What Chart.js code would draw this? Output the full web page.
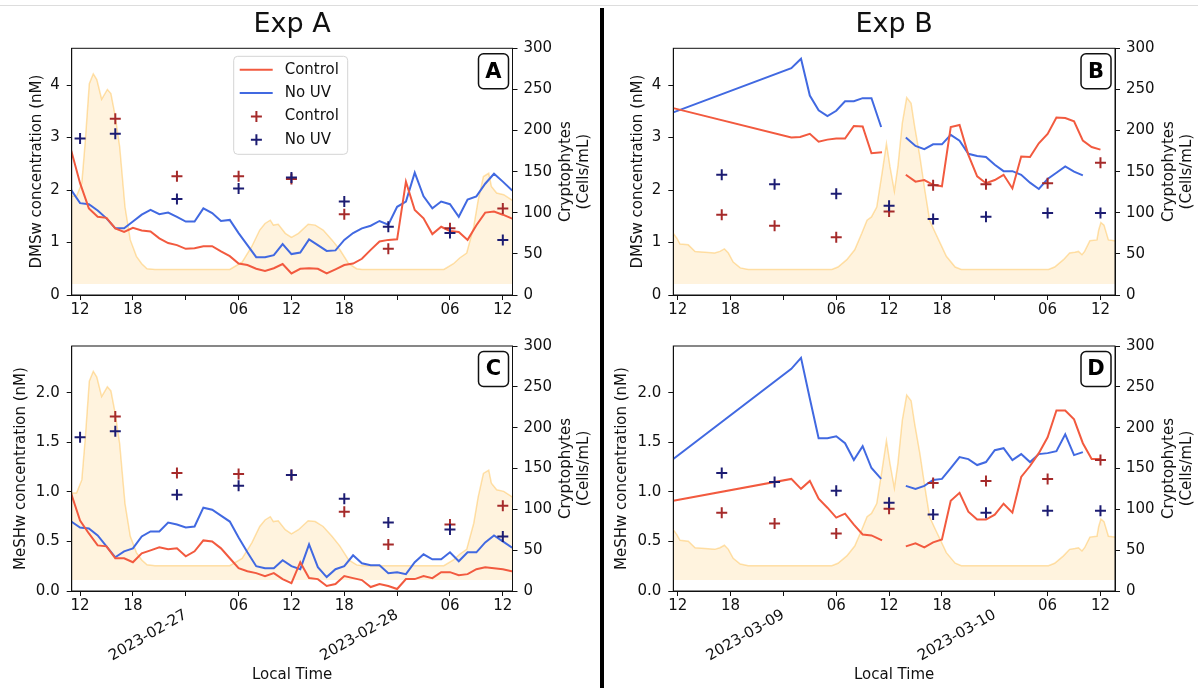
<!DOCTYPE html>
<html>
<head>
<meta charset="utf-8">
<script src="https://cdn.jsdelivr.net/npm/chart.js@4.4.1/dist/chart.umd.min.js"></script>
<style>
  html, body { margin: 0; padding: 0; background: #fff; }
  #page { position: relative; width: 1198px; height: 688px; overflow: hidden; }
  canvas { position: absolute; }
  #topline { position: absolute; left: 0; top: 5px; width: 1198px; height: 1px; background: #ddd; }
  #divider { position: absolute; left: 600px; top: 8px; width: 4px; height: 680px; background: #000; }
</style>
</head>
<body>
<div id="page">
  <div id="topline"></div>
  <canvas id="cA" width="598" height="330" style="left:0;top:0"></canvas>
  <canvas id="cB" width="595" height="330" style="left:603px;top:0"></canvas>
  <canvas id="cC" width="598" height="358" style="left:0;top:330px"></canvas>
  <canvas id="cD" width="595" height="358" style="left:603px;top:330px"></canvas>
  <div id="divider"></div>
</div>
<script>
Chart.defaults.font.family = "'DejaVu Sans', sans-serif";
Chart.defaults.font.size = 15;
Chart.defaults.color = '#111';

// x is hours since 12:00 on the first day
const HOUR_TICKS = [0, 6, 12, 18, 24, 30, 36, 42, 48];
const HOUR_LABELS = ['12', '18', '', '06', '12', '18', '', '06', '12'];
const DATE_TICKS = [12, 36];
const DATES_A = ['2023-02-27', '2023-02-28'];
const DATES_B = ['2023-03-09', '2023-03-10'];

// Cryptophytes (cells/mL), shared by the two panels of each experiment
const cryptoA = [[-1,120],[-0.4,120],[0.2,136],[0.6,188],[1.05,257],[1.5,269],[1.9,262],[2.45,238],[3.1,250],[3.5,245],[4.0,217],[4.5,180],[5.1,107],[5.7,67],[6.4,47],[7.0,38],[7.6,32],[8.5,31],[17.0,31],[18.4,40],[19.5,59],[20.4,79],[21.0,87],[21.6,91],[21.95,85],[22.5,86],[23.3,75],[24.0,70],[24.8,75],[25.9,86],[26.7,85],[27.6,79],[28.6,67],[29.5,55],[30.5,38],[31.4,32],[32,31],[41.3,31],[42.4,38],[43.1,45],[43.9,51],[44.7,83],[45.2,115],[45.8,144],[46.4,148],[46.7,132],[47.3,124],[48.1,122],[49.1,115],[50,112]];
const cryptoB = [[-1,78],[-0.5,75],[-0.1,69],[0.26,62],[1.2,61],[1.97,53],[4.2,51],[4.8,53],[5.3,56],[5.75,51],[6.3,40],[7.1,33],[8.0,31],[17.5,31],[18.2,34],[19.2,43],[20.1,55],[20.9,75],[21.5,91],[22.0,95],[22.6,107],[23.2,148],[23.7,184],[24.1,156],[24.6,126],[25.0,156],[25.5,209],[26.0,240],[26.5,233],[26.9,205],[27.5,168],[28.05,128],[28.6,91],[29.1,79],[29.8,63],[30.5,47],[31.5,34],[32.2,31],[42.1,31],[42.8,34],[43.8,43],[44.5,51],[45.1,52],[45.5,53],[45.9,49],[46.2,53],[46.8,66],[47.6,67],[47.8,79],[48.05,88],[48.4,85],[48.9,67],[49.6,66],[50,66]];

// DMSw (nM), continuous
const dmsCtrlA = [[-1,2.75],[0,2.13],[1,1.65],[2,1.49],[3,1.47],[4,1.27],[5,1.20],[6,1.28],[7,1.23],[8,1.21],[9,1.08],[10,0.99],[11,0.95],[12,0.88],[13,0.89],[14,0.93],[15,0.93],[16,0.83],[17,0.74],[18,0.60],[19,0.57],[20,0.50],[21,0.46],[22,0.51],[23,0.59],[24,0.41],[25,0.50],[26,0.51],[27,0.50],[28,0.41],[29,0.49],[30,0.57],[31,0.60],[32,0.69],[33,0.86],[34,1.02],[35,1.05],[36,1.06],[37,2.16],[38,1.62],[39,1.46],[40,1.16],[41,1.30],[42,1.22],[43,1.20],[44,1.05],[45,1.33],[46,1.57],[47,1.59],[48,1.53],[49,1.46],[50,1.42]];
const dmsNoUvA = [[-1,2.0],[0,1.75],[1,1.73],[2,1.61],[3,1.46],[4,1.27],[5,1.27],[6,1.40],[7,1.53],[8,1.62],[9,1.54],[10,1.57],[11,1.49],[12,1.40],[13,1.40],[14,1.65],[15,1.56],[16,1.41],[17,1.43],[18,1.18],[19,0.95],[20,0.72],[21,0.72],[22,0.76],[23,0.97],[24,0.78],[25,0.81],[26,1.06],[27,0.95],[28,0.84],[29,0.85],[30,1.05],[31,1.18],[32,1.27],[33,1.32],[34,1.41],[35,1.34],[36,1.68],[37,1.78],[38,2.33],[39,1.88],[40,1.65],[41,1.78],[42,1.73],[43,1.49],[44,1.82],[45,1.88],[46,2.12],[47,2.31],[48,2.16],[49,2.0],[50,1.9]];
const dmsCtrlB = [[-0.5,3.56],[12.9,3.00],[13.9,3.01],[15,3.07],[16,2.92],[17,2.96],[18,2.98],[19,2.98],[20,3.22],[21,3.21],[22,2.70],[23.2,2.72],[24,null],[25.9,2.29],[27,2.16],[28,2.19],[29,2.10],[30,2.07],[31,3.20],[32,3.24],[33,2.67],[34,2.26],[35,2.13],[36,2.19],[37,2.29],[38,2.03],[39,2.64],[40,2.63],[41,2.89],[42,3.07],[43,3.38],[44,3.37],[45,3.31],[46,2.94],[47,2.82],[48,2.77]];
const dmsNoUvB = [[-0.5,3.48],[12.9,4.32],[14,4.50],[15,3.80],[16,3.52],[17,3.41],[18,3.51],[19,3.69],[20,3.69],[21,3.75],[22,3.75],[23.1,3.20],[24,null],[25.9,3.00],[27,2.84],[28,2.78],[29,2.87],[30,2.87],[31,3.05],[32,2.94],[33,2.69],[34,2.65],[35,2.63],[36,2.48],[37,2.36],[38,2.36],[39,2.29],[40,2.14],[41,2.02],[42,2.21],[43,2.33],[44,2.45],[45,2.35],[46,2.28]];

// MeSHw (nM), continuous
const meshCtrlA = [[-1,0.98],[0,0.71],[1,0.58],[2,0.46],[3,0.45],[4,0.33],[5,0.33],[6,0.29],[7,0.38],[8,0.41],[9,0.44],[10,0.42],[11,0.43],[12,0.35],[13,0.40],[14,0.51],[15,0.50],[16,0.43],[17,0.33],[18,0.23],[19,0.20],[20,0.18],[21,0.15],[22,0.18],[23,0.12],[24,0.08],[25,0.29],[26,0.13],[27,0.12],[28,0.05],[29,0.07],[30,0.15],[31,0.13],[32,0.11],[33,0.04],[34,0.07],[35,0.05],[36,0.02],[37,0.12],[38,0.12],[39,0.15],[40,0.13],[41,0.19],[42,0.19],[43,0.16],[44,0.17],[45,0.22],[46,0.24],[47,0.23],[48,0.22],[49,0.20],[50,0.19]];
const meshNoUvA = [[-1,0.70],[0,0.64],[1,0.63],[2,0.56],[3,0.45],[4,0.34],[5,0.40],[6,0.43],[7,0.55],[8,0.60],[9,0.60],[10,0.69],[11,0.67],[12,0.64],[13,0.65],[14,0.84],[15,0.82],[16,0.76],[17,0.70],[18,0.54],[19,0.39],[20,0.25],[21,0.23],[22,0.23],[23,0.31],[24,0.25],[25,0.22],[26,0.47],[27,0.24],[28,0.14],[29,0.22],[30,0.25],[31,0.36],[32,0.28],[33,0.26],[34,0.26],[35,0.18],[36,0.19],[37,0.17],[38,0.29],[39,0.37],[40,0.32],[41,0.32],[42,0.39],[43,0.30],[44,0.39],[45,0.39],[46,0.49],[47,0.56],[48,0.50],[49,0.44],[50,0.42]];
const meshCtrlB = [[-0.5,0.91],[12.9,1.13],[14,1.03],[15,1.11],[16,0.93],[17,0.84],[18,0.74],[19,0.78],[20,0.67],[21,0.57],[22,0.56],[23.2,0.51],[24,null],[25.9,0.45],[27,0.48],[28,0.44],[29,0.49],[30,0.52],[31,0.91],[32,0.99],[33,0.80],[34,0.72],[35,0.72],[36,0.77],[37,0.88],[38,0.79],[39,1.15],[40,1.26],[41,1.39],[42,1.55],[43,1.82],[44,1.82],[45,1.73],[46,1.49],[47,1.33],[48,1.33]];
const meshNoUvB = [[-0.5,1.33],[12.9,2.24],[14,2.35],[15,1.94],[16,1.54],[17,1.54],[18,1.56],[19,1.49],[20,1.32],[21,1.46],[22,1.24],[23.1,1.13],[24,null],[25.9,1.06],[27,1.03],[28,1.06],[29,1.12],[30,1.13],[31,1.24],[32,1.35],[33,1.33],[34,1.27],[35,1.30],[36,1.42],[37,1.44],[38,1.32],[39,1.38],[40,1.30],[41,1.38],[42,1.39],[43,1.41],[44,1.58],[45,1.37],[46,1.40]];

// discrete samples (+ markers)
const dmsSampCtrlA = [[4,3.36],[11,2.26],[18,2.26],[24,2.21],[30,1.54],[35,0.88],[42,1.27],[48,1.65]];
const dmsSampNoUvA = [[0,2.98],[4,3.07],[11,1.83],[18,2.03],[24,2.24],[30,1.78],[35,1.30],[42,1.18],[48,1.05]];
const dmsSampCtrlB = [[5,1.53],[11,1.32],[18,1.10],[24,1.59],[29,2.09],[35,2.11],[42,2.13],[48,2.52]];
const dmsSampNoUvB = [[5,2.29],[11,2.11],[18,1.93],[24,1.70],[29,1.45],[35,1.49],[42,1.56],[48,1.56]];
const meshSampCtrlA = [[4,1.76],[11,1.19],[18,1.18],[24,1.17],[30,0.80],[35,0.47],[42,0.67],[48,0.86]];
const meshSampNoUvA = [[0,1.55],[4,1.61],[11,0.97],[18,1.06],[24,1.17],[30,0.93],[35,0.69],[42,0.62],[48,0.55]];
const meshSampCtrlB = [[5,0.79],[11,0.68],[18,0.58],[24,0.83],[29,1.09],[35,1.11],[42,1.13],[48,1.32]];
const meshSampNoUvB = [[5,1.19],[11,1.10],[18,1.01],[24,0.89],[29,0.77],[35,0.79],[42,0.81],[48,0.81]];

const RED = '#f25a3f', BLUE = '#4169e1';
const RED_MARK = '#a52a2a', BLUE_MARK = '#1c1c72';
const AXIS = '#111';

const pts = arr => arr.map(([x, y]) => ({ x, y }));

// frame + boxed panel letter in the top-right corner
const panelTag = {
  id: 'panelTag',
  afterDatasetsDraw(chart, args, opts) {
    const { ctx, chartArea: a } = chart;
    ctx.save();
    ctx.lineWidth = 1;
    ctx.strokeStyle = AXIS;
    ctx.strokeRect(a.left, a.top, a.width, a.height);
    const w = 30, h = 35, x = a.right - 4 - w, y = a.top + 5.5;
    ctx.beginPath();
    ctx.roundRect(x, y, w, h, 5);
    ctx.fillStyle = '#fff';
    ctx.fill();
    ctx.lineWidth = 1.5;
    ctx.stroke();
    ctx.font = "bold 21px 'DejaVu Sans'";
    ctx.textAlign = 'center';
    ctx.textBaseline = 'middle';
    ctx.fillStyle = '#000';
    ctx.fillText(opts.text, x + w / 2, y + h / 2 + 1);
    ctx.restore();
  }
};

// right axis title, reading upwards like the left one
const rightTitle = {
  id: 'rightTitle',
  afterDraw(chart) {
    const { ctx, chartArea: a } = chart;
    const cy = (a.top + a.bottom) / 2;
    ctx.save();
    ctx.font = "15px 'DejaVu Sans'";
    ctx.fillStyle = '#111';
    ctx.textAlign = 'center';
    ctx.textBaseline = 'middle';
    [['Cryptophytes', 54], ['(Cells/mL)', 72]].forEach(([t, dx]) => {
      ctx.save();
      ctx.translate(a.right + dx, cy);
      ctx.rotate(-Math.PI / 2);
      ctx.fillText(t, 0, 0);
      ctx.restore();
    });
    ctx.restore();
  }
};

// the rotated date labels tuck up beside the hour labels, so give their
// axis box (and its label clip) a bit more room at the top
const liftDates = {
  id: 'liftDates',
  afterLayout(chart) {
    const s = chart.scales.xd;
    if (s) s.top -= 10;
  }
};

// matplotlib-style legend box, only used on panel A
const legendBox = {
  id: 'legendBox',
  afterDatasetsDraw(chart, args, opts) {
    if (!opts.show) return;
    const { ctx, chartArea: a } = chart;
    const ds = chart.data.datasets;
    const items = [ds[2], ds[3], ds[1], ds[0]];
    const x = a.left + 162, y = a.top + 8, w = 114, h = 98;
    ctx.save();
    ctx.beginPath();
    ctx.roundRect(x, y, w, h, 4);
    ctx.fillStyle = 'rgba(255,255,255,0.85)';
    ctx.fill();
    ctx.strokeStyle = '#d4d4d4';
    ctx.lineWidth = 1;
    ctx.stroke();
    ctx.font = "15px 'DejaVu Sans'";
    ctx.textBaseline = 'middle';
    items.forEach((d, i) => {
      const cy = y + 13.5 + i * 23.3;
      ctx.strokeStyle = d.borderColor;
      ctx.lineWidth = 2;
      ctx.beginPath();
      if (d.showLine === false) {
        ctx.moveTo(x + 22.7 - 5.5, cy); ctx.lineTo(x + 22.7 + 5.5, cy);
        ctx.moveTo(x + 22.7, cy - 5.5); ctx.lineTo(x + 22.7, cy + 5.5);
      } else {
        ctx.moveTo(x + 6, cy); ctx.lineTo(x + 39, cy);
      }
      ctx.stroke();
      ctx.fillStyle = '#111';
      ctx.fillText(d.label, x + 51, cy);
    });
    ctx.restore();
  }
};

function makePanel(id, o) {
  const canvas = document.getElementById(id);
  const W = canvas.width, H = canvas.height, a = o.area;
  const top = !!o.title;
  const xh = top ? H - a.b : 21;
  // left title centre sits titleGap px left of the axis
  const padLeft = a.l - o.titleGap - 13;
  const scales = {
    x: {
      type: 'linear', min: o.xMin, max: o.xMax, weight: 0,
      afterBuildTicks: s => { s.ticks = HOUR_TICKS.map(value => ({ value })); },
      ticks: { autoSkip: false, maxRotation: 0, padding: 1,
        callback: v => HOUR_LABELS[HOUR_TICKS.indexOf(v)] },
      grid: { drawOnChartArea: false, tickLength: 5, color: AXIS },
      border: { color: AXIS },
      afterFit: s => { s.height = xh; }
    },
    y: {
      position: 'left', min: 0, max: o.yMax,
      ticks: { stepSize: o.yStep, includeBounds: false, padding: 7, callback: o.yFmt },
      grid: { drawOnChartArea: false, tickLength: 5, color: AXIS },
      border: { color: AXIS },
      title: { display: true, text: o.yTitle, padding: { top: 4, bottom: 0 } },
      afterFit: s => { s.width = a.l - padLeft; }
    },
    y2: {
      position: 'right', min: 0, max: 300,
      ticks: { stepSize: 50, includeBounds: false, padding: 6 },
      grid: { drawOnChartArea: false, tickLength: 5, color: AXIS },
      border: { color: AXIS },
      afterFit: s => { s.width = W - a.r; }
    }
  };
  if (!top) {
    scales.xd = {
      type: 'linear', position: 'bottom', min: o.xMin, max: o.xMax, weight: 1,
      afterBuildTicks: s => { s.ticks = DATE_TICKS.map(value => ({ value })); },
      ticks: { autoSkip: false, minRotation: 30, maxRotation: 30, padding: -4,
        callback: v => o.dates[DATE_TICKS.indexOf(v)] },
      grid: { display: false },
      border: { display: false },
      title: { display: true, text: 'Local Time', padding: { top: 0, bottom: 4 } },
      afterFit: s => { s.height = H - a.b - xh; }
    };
  }

  return new Chart(canvas, {
    type: 'line',
    data: {
      datasets: [
        { label: 'No UV', data: pts(o.sampNoUv), yAxisID: 'y', showLine: false, pointStyle: 'cross',
          pointRadius: 5.5, pointBorderWidth: 2, borderColor: BLUE_MARK, order: 0 },
        { label: 'Control', data: pts(o.sampCtrl), yAxisID: 'y', showLine: false, pointStyle: 'cross',
          pointRadius: 5.5, pointBorderWidth: 2, borderColor: RED_MARK, order: 1 },
        { label: 'Control', data: pts(o.ctrl), yAxisID: 'y', borderColor: RED, borderWidth: 2,
          pointRadius: 0, spanGaps: false, order: 2 },
        { label: 'No UV', data: pts(o.noUv), yAxisID: 'y', borderColor: BLUE, borderWidth: 2,
          pointRadius: 0, spanGaps: false, order: 3 },
        { label: 'Cryptophytes', data: pts(o.crypto), yAxisID: 'y2', borderColor: 'rgba(255,165,0,0.32)',
          borderWidth: 1.5, backgroundColor: 'rgba(255,165,0,0.13)', fill: { value: 13.5 },
          pointRadius: 0, order: 4 }
      ]
    },
    options: {
      responsive: false,
      animation: false,
      events: [],
      layout: { padding: { left: padLeft, right: 0, top: top ? 0 : a.t, bottom: 0 } },
      scales,
      plugins: {
        legend: { display: false },
        tooltip: { enabled: false },
        title: { display: top, text: o.title, fullSize: false, color: '#111',
          font: { size: 27, weight: 'normal' }, padding: { top: 9, bottom: a.t - 9 - 32.4 } },
        panelTag: { text: o.tag },
        legendBox: { show: !!o.legend }
      }
    },
    plugins: [panelTag, rightTitle, legendBox, liftDates]
  });
}

const fmtInt = v => String(v);
const fmt1 = v => v.toFixed(1);

makePanel('cA', { title: 'Exp A', tag: 'A', legend: true, xMin: -0.95, xMax: 49.1, yMax: 4.70, yStep: 1, yFmt: fmtInt,
  yTitle: 'DMSw concentration (nM)', titleGap: 34.7, area: { l: 71.7, r: 512.5, t: 48.3, b: 295 },
  crypto: cryptoA, ctrl: dmsCtrlA, noUv: dmsNoUvA, sampCtrl: dmsSampCtrlA, sampNoUv: dmsSampNoUvA });
makePanel('cB', { title: 'Exp B', tag: 'B', xMin: -0.5, xMax: 49.65, yMax: 4.70, yStep: 1, yFmt: fmtInt,
  yTitle: 'DMSw concentration (nM)', titleGap: 34.7, area: { l: 70.3, r: 512, t: 48.3, b: 295 },
  crypto: cryptoB, ctrl: dmsCtrlB, noUv: dmsNoUvB, sampCtrl: dmsSampCtrlB, sampNoUv: dmsSampNoUvB });
makePanel('cC', { tag: 'C', dates: DATES_A, xMin: -0.95, xMax: 49.1, yMax: 2.47, yStep: 0.5, yFmt: fmt1,
  yTitle: 'MeSHw concentration (nM)', titleGap: 51, area: { l: 71.7, r: 512.5, t: 14, b: 261 },
  crypto: cryptoA, ctrl: meshCtrlA, noUv: meshNoUvA, sampCtrl: meshSampCtrlA, sampNoUv: meshSampNoUvA });
makePanel('cD', { tag: 'D', dates: DATES_B, xMin: -0.5, xMax: 49.65, yMax: 2.47, yStep: 0.5, yFmt: fmt1,
  yTitle: 'MeSHw concentration (nM)', titleGap: 51, area: { l: 70.3, r: 512, t: 14, b: 261 },
  crypto: cryptoB, ctrl: meshCtrlB, noUv: meshNoUvB, sampCtrl: meshSampCtrlB, sampNoUv: meshSampNoUvB });
</script>
</body>
</html>
